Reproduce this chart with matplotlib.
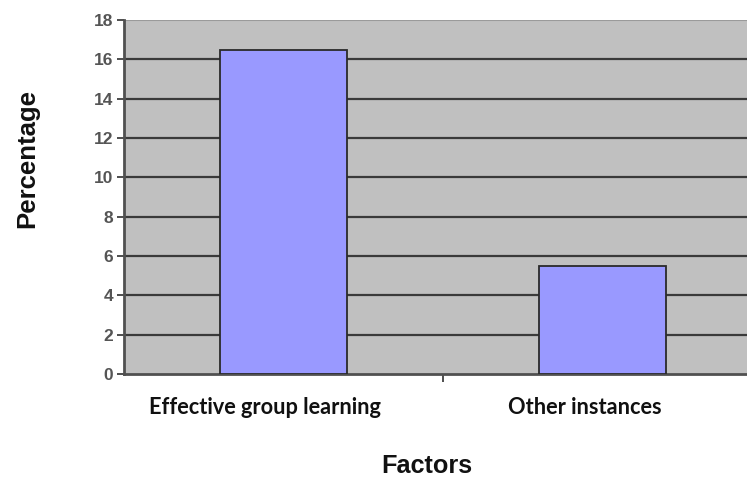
import matplotlib.pyplot as plt
import numpy as np

categories = ["Effective group learning", "Other instances"]
percentages = [16.5, 5.5]
y_ticks = [0, 2, 4, 6, 8, 10, 12, 14, 16, 18]

fig = plt.figure(figsize=(7.47, 4.79), dpi=100)
# plot area runs a little past the right edge of the canvas
ax = fig.add_axes([0.166, 0.2192, 0.854, 0.739])
ax.set_facecolor("#c0c0c0")

x = np.arange(len(categories))
ax.bar(x, percentages, width=0.4, color="#9999ff", edgecolor="#2a2a2a",
       linewidth=1.3, zorder=3)

ax.set_xlim(-0.5, 1.5)
ax.set_ylim(0, 18)

# horizontal grid lines
for v in y_ticks[1:-1]:
    ax.axhline(v, color="#3a3a3a", linewidth=1.6, zorder=1)

ax.set_yticks(y_ticks)
ax.set_yticklabels([str(v) for v in y_ticks], fontsize=12.5, fontweight="bold",
                   color="#555555", fontfamily="Liberation Sans")
ax.tick_params(axis="y", length=5, width=1.3, color="#404040", pad=3)

# only a separator tick between the two categories
ax.set_xticks([0.5])
ax.set_xticklabels([""])
ax.tick_params(axis="x", length=6, width=1.3, color="#404040")

for side in ["top", "right"]:
    ax.spines[side].set_visible(False)
ax.spines["left"].set_color("#505050")
ax.spines["left"].set_linewidth(2)
ax.spines["bottom"].set_color("#505050")
ax.spines["bottom"].set_linewidth(2)
ax.axhline(18, color="#9a9a9a", linewidth=1.5, zorder=1)

for i, label in enumerate(categories):
    ax.annotate(label, xy=(x[i], 0), xytext=(-13, -24), textcoords="offset points",
                ha="center", va="center", fontsize=15.7, fontweight="bold",
                fontfamily="Lato", color="#101010", annotation_clip=False)

fig.text(0.5716, 0.027, "Factors", ha="center", va="center", fontsize=18.2,
         fontweight="bold", fontfamily="Liberation Sans", color="#111111")
fig.text(0.036, 0.67, "Percentage", ha="center", va="center", rotation=90,
         fontsize=18.5, fontweight="bold", fontfamily="Liberation Sans",
         color="#111111")

fig.savefig("out.png", dpi=100)
